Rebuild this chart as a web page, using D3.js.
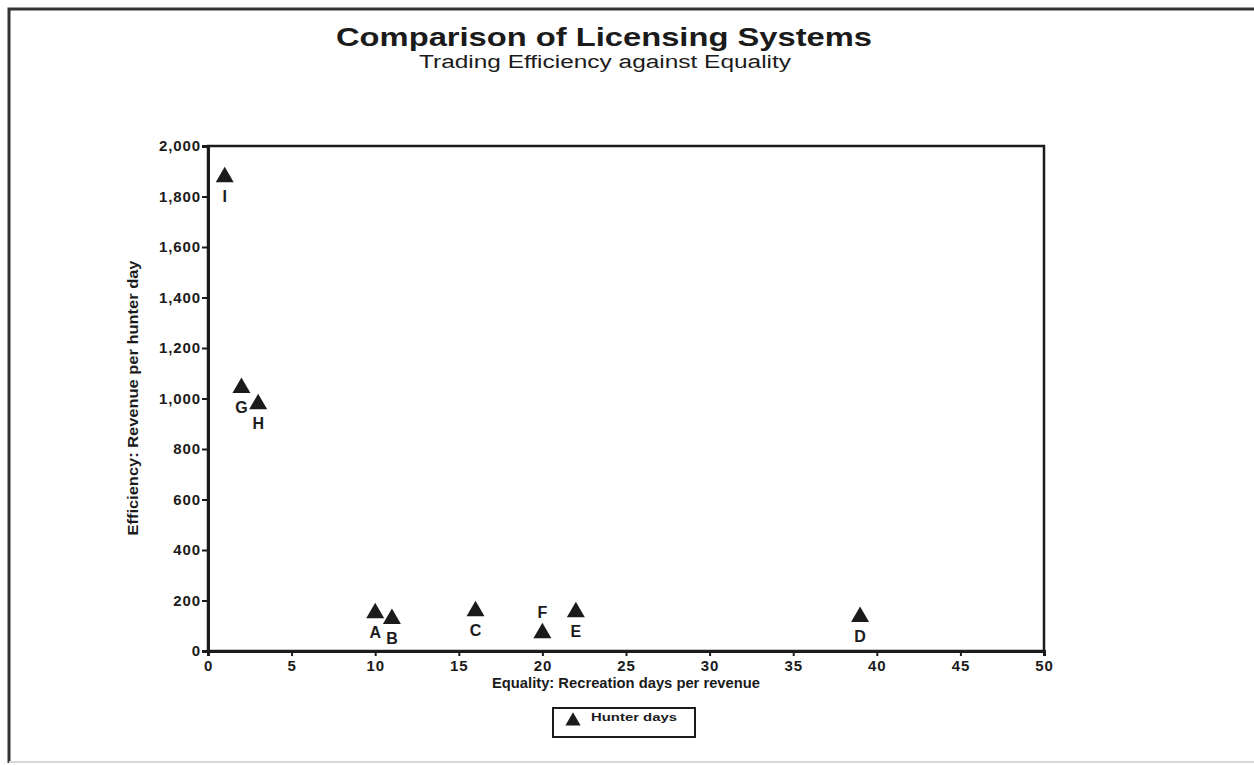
<!DOCTYPE html>
<html>
<head>
<meta charset="utf-8">
<script src="https://cdn.jsdelivr.net/npm/d3@7"></script>
<style>
  html, body { margin: 0; padding: 0; background: #fff; }
  svg { display: block; font-family: "Liberation Sans", Arial, sans-serif; }
</style>
</head>
<body>
<div id="chart"></div>
<script>
// Licensing systems: equality (x) vs efficiency (y)
const systems = ["A", "B", "C", "D", "E", "F", "G", "H", "I"];
const equality = [10, 11, 16, 39, 22, 20, 2, 3, 1];
const efficiency = [150, 127, 158, 135, 154, 71, 1042, 978, 1877];
const labelSide = ["below", "below", "below", "below", "below", "above", "below", "below", "below"];
const xTicks = [0, 5, 10, 15, 20, 25, 30, 35, 40, 45, 50];
const yTicks = [0, 200, 400, 600, 800, 1000, 1200, 1400, 1600, 1800, 2000];
const seriesName = "Hunter days";

const W = 1254, H = 765;
const plot = { left: 208, right: 1044, top: 146, bottom: 651 };
const ink = "#1b1b1b";

const svg = d3.select("#chart").append("svg")
    .attr("width", W)
    .attr("height", H);

// scanned page frame (left + top edges, faint bottom)
svg.append("path")
    .attr("d", `M9,${H - 2} V9 H${W}`)
    .attr("fill", "none")
    .attr("stroke", "#333")
    .attr("stroke-width", 3);
svg.append("line")
    .attr("x1", 9).attr("x2", W).attr("y1", H - 3).attr("y2", H - 3)
    .attr("stroke", "#d8d8d8").attr("stroke-width", 2);

// titles
svg.append("text")
    .attr("x", 604).attr("y", 46)
    .attr("text-anchor", "middle")
    .attr("font-size", 26).attr("font-weight", "bold")
    .attr("fill", ink)
    .attr("textLength", 536).attr("lengthAdjust", "spacingAndGlyphs")
    .text("Comparison of Licensing Systems");
svg.append("text")
    .attr("x", 605).attr("y", 68)
    .attr("text-anchor", "middle")
    .attr("font-size", 18)
    .attr("fill", ink)
    .attr("textLength", 372).attr("lengthAdjust", "spacingAndGlyphs")
    .text("Trading Efficiency against Equality");

const x = d3.scaleLinear().domain([0, 50]).range([plot.left, plot.right]);
const y = d3.scaleLinear().domain([0, 2000]).range([plot.bottom, plot.top]);

// plot frame
svg.append("rect")
    .attr("x", plot.left).attr("y", plot.top)
    .attr("width", plot.right - plot.left)
    .attr("height", plot.bottom - plot.top)
    .attr("fill", "none")
    .attr("stroke", ink)
    .attr("stroke-width", 2.5);

// axes
const xAxis = svg.append("g")
    .attr("transform", `translate(0,${plot.bottom})`)
    .call(d3.axisBottom(x).tickValues(xTicks).tickSize(5).tickPadding(4).tickFormat(d3.format("d")));
const yAxis = svg.append("g")
    .attr("transform", `translate(${plot.left},0)`)
    .call(d3.axisLeft(y).tickValues(yTicks).tickSize(6).tickPadding(1).tickFormat(d3.format(",")));

[xAxis, yAxis].forEach(a => {
    a.select(".domain").attr("stroke", ink).attr("stroke-width", 3);
    a.selectAll(".tick line").attr("stroke", ink).attr("stroke-width", 2);
    a.selectAll(".tick text")
        .attr("fill", ink)
        .attr("font-family", "'Liberation Sans', Arial, sans-serif")
        .attr("font-size", 15)
        .attr("font-weight", "bold")
        .attr("letter-spacing", 0.9);
});

// axis titles
svg.append("text")
    .attr("x", (plot.left + plot.right) / 2).attr("y", 688)
    .attr("text-anchor", "middle")
    .attr("font-size", 14).attr("font-weight", "bold")
    .attr("fill", ink)
    .attr("textLength", 268).attr("lengthAdjust", "spacingAndGlyphs")
    .text("Equality: Recreation days per revenue");
svg.append("text")
    .attr("transform", `translate(138,${398}) rotate(-90)`)
    .attr("text-anchor", "middle")
    .attr("font-size", 14).attr("font-weight", "bold")
    .attr("fill", ink)
    .attr("textLength", 275).attr("lengthAdjust", "spacingAndGlyphs")
    .text("Efficiency: Revenue per hunter day");

// points
const tri = d3.symbol().type(d3.symbolTriangle).size(140);
const pts = systems.map((name, i) => ({
    name, ex: equality[i], ef: efficiency[i], side: labelSide[i]
}));

svg.append("g").selectAll("path")
    .data(pts)
    .join("path")
    .attr("d", tri)
    .attr("transform", d => `translate(${x(d.ex)},${y(d.ef)})`)
    .attr("fill", ink);

svg.append("g").selectAll("text")
    .data(pts)
    .join("text")
    .attr("x", d => x(d.ex))
    .attr("y", d => y(d.ef) + (d.side === "above" ? -15 : 25))
    .attr("text-anchor", "middle")
    .attr("font-size", 16).attr("font-weight", "bold")
    .attr("fill", ink)
    .text(d => d.name);

// legend
const legend = svg.append("g").attr("transform", "translate(553,708)");
legend.append("rect")
    .attr("width", 142).attr("height", 29)
    .attr("fill", "none")
    .attr("stroke", ink)
    .attr("stroke-width", 2);
legend.append("path")
    .attr("d", d3.symbol().type(d3.symbolTriangle).size(100))
    .attr("transform", "translate(20,13)")
    .attr("fill", ink);
legend.append("text")
    .attr("x", 38).attr("y", 13)
    .attr("font-size", 11).attr("font-weight", "bold")
    .attr("fill", ink)
    .attr("textLength", 86).attr("lengthAdjust", "spacingAndGlyphs")
    .text(seriesName);
</script>
</body>
</html>
